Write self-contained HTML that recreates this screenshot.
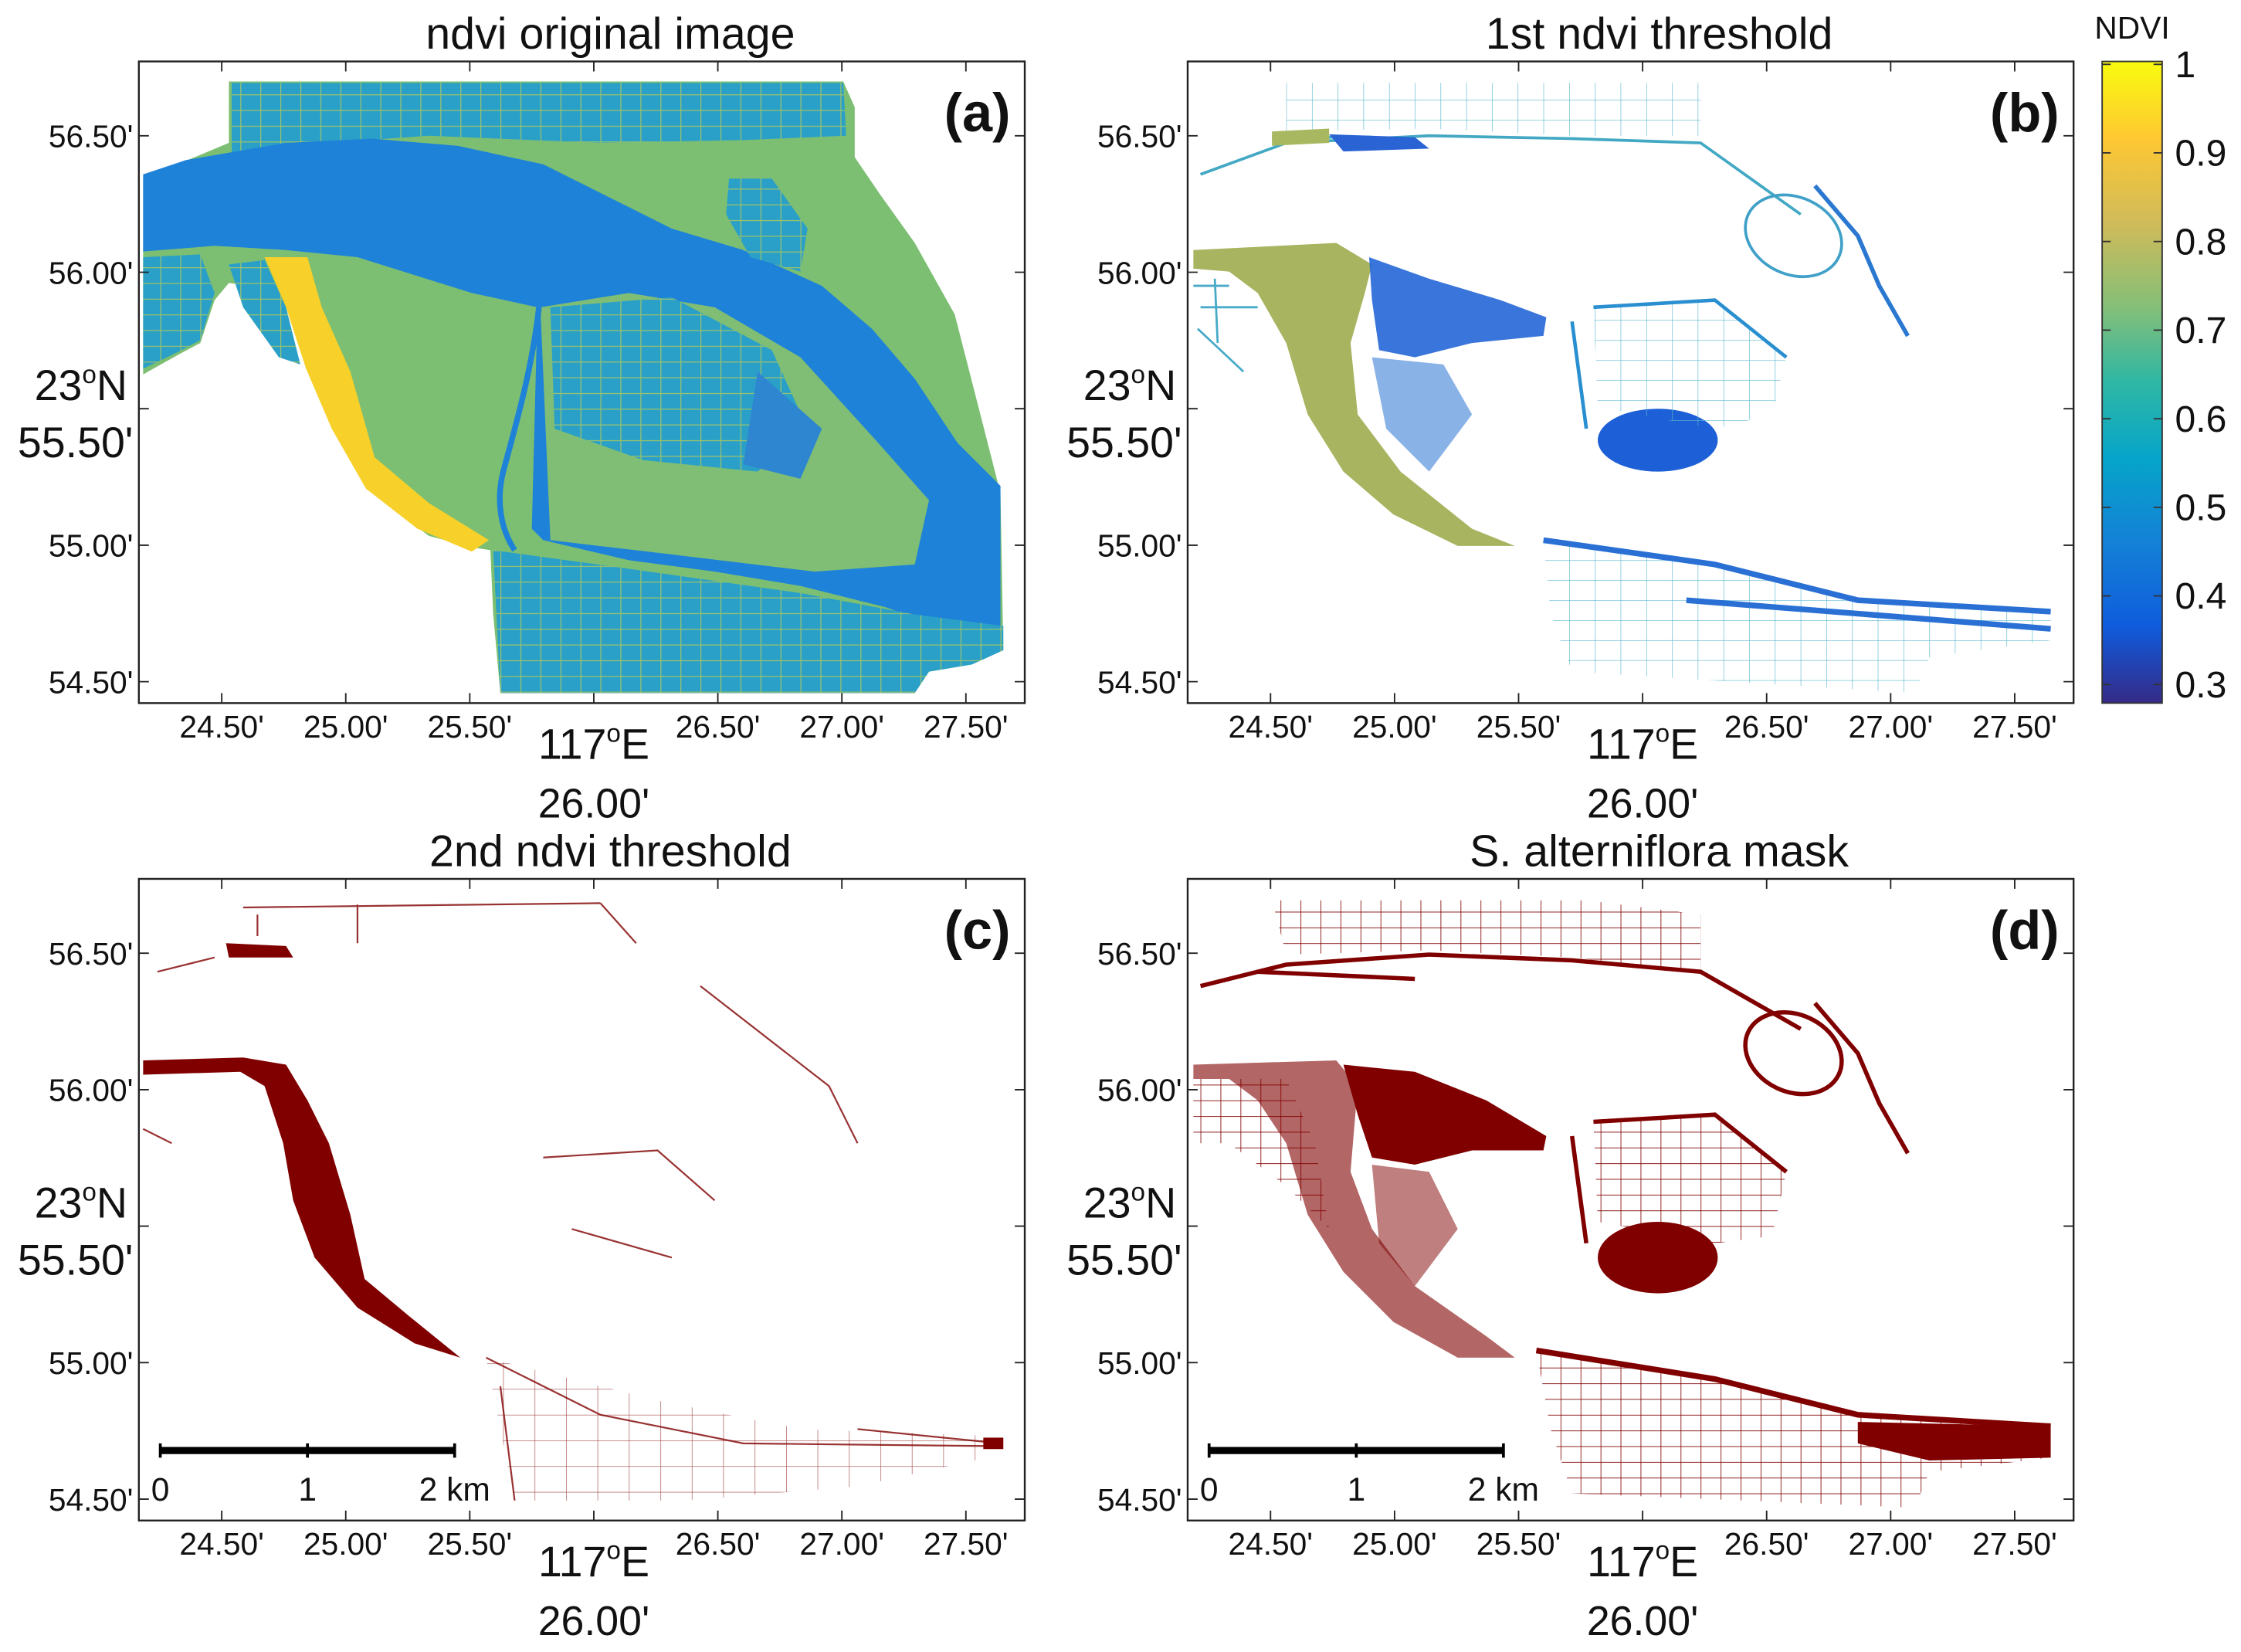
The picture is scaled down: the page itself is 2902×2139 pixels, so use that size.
<!DOCTYPE html>
<html><head><meta charset="utf-8">
<style>
html,body{margin:0;padding:0;background:#fff}
svg{display:block}
text{font-family:"Liberation Sans",sans-serif;fill:#111}
</style></head>
<body>
<svg id="fig" xmlns="http://www.w3.org/2000/svg" width="2902" height="2139" viewBox="0 0 1568 1156">
<defs>
<linearGradient id="parula" x1="0" y1="1" x2="0" y2="0">
<stop offset="0" stop-color="#352a87"/><stop offset="0.12" stop-color="#0f5cdd"/>
<stop offset="0.25" stop-color="#1481d6"/><stop offset="0.38" stop-color="#06a4ca"/>
<stop offset="0.5" stop-color="#2eb7a4"/><stop offset="0.62" stop-color="#87bf77"/>
<stop offset="0.75" stop-color="#d1bb59"/><stop offset="0.88" stop-color="#fec832"/>
<stop offset="1" stop-color="#f9fb0e"/></linearGradient>
<pattern id="fields" width="14" height="11" patternUnits="userSpaceOnUse">
<rect width="14" height="11" fill="#2aa0c8"/><path d="M0 0H14M0 0V11" stroke="#9cc26a" stroke-width="1.3"/></pattern>
<pattern id="bfields" width="18" height="14" patternUnits="userSpaceOnUse">
<path d="M0 0H18M0 0V14" stroke="#5ab7d0" stroke-width="0.7"/></pattern>
<pattern id="rfields" width="14" height="11" patternUnits="userSpaceOnUse">
<path d="M0 0H14M0 0V11" stroke="#800000" stroke-width="0.9"/></pattern>
<pattern id="rfields2" width="22" height="18" patternUnits="userSpaceOnUse">
<path d="M0 0H22M0 0V18" stroke="#800000" stroke-width="0.7"/></pattern>
</defs>

<g>
<polygon fill="#7cbf72" points="100,125 160,100 160,57 590,57 598,75 598,110 615,135 640,170 668,220 700,345 702,455 680,465 650,470 640,485 350,485 345,430 343,385 330,383 300,375 260,345 235,300 215,255 200,215 175,200 160,198 150,210 140,240 125,248 100,262"/>
<polygon fill="url(#fields)" points="162,58 590,58 592,95 520,98 420,100 300,95 200,102 162,110"/>
<polygon fill="url(#fields)" points="100,180 140,178 150,205 140,238 125,246 100,258"/>
<polygon fill="url(#fields)" points="160,185 185,182 200,215 210,255 195,250 170,215"/>
<polygon fill="#f7d02a" points="185,180 215,180 225,215 245,260 262,320 300,352 342,378 330,386 292,370 256,342 232,300 214,258 200,215"/>
<polygon fill="#1e82d8" points="100,122 130,112 200,100 260,97 320,102 380,115 430,140 470,160 520,175 575,200 610,230 640,265 670,310 700,340 700,455 620,425 560,410 500,400 440,392 380,378 372,370 376,215 330,205 250,180 200,175 150,172 100,176"/>
<polygon fill="#7fbe74" points="385,378 378,215 440,205 500,215 560,250 610,305 650,350 640,395 570,400 470,388"/>
<polygon fill="url(#fields)" points="385,215 470,208 540,245 565,300 530,330 450,322 388,300"/>
<polygon fill="#2e86d0" points="530,260 575,300 560,335 520,325"/>
<polygon fill="url(#fields)" points="510,125 540,125 565,160 560,190 525,180 508,150"/>
<polygon fill="url(#fields)" points="345,385 440,398 560,415 640,430 702,438 702,455 680,465 650,470 640,485 350,485"/>
<path d="M377 215 C372 260 360 300 352 330 C347 350 350 370 360 385" fill="none" stroke="#1e82d8" stroke-width="4"/>
</g>

<g>
<polygon fill="url(#bfields)" points="900,58 1190,58 1190,95 1100,95 1000,90 900,92"/>
<path d="M840 122 L900 100 L1000 95 L1100 97 L1190 100 L1260 150 M890 96 L960 96" stroke="#42a8c4" stroke-width="2" fill="none"/>
<polygon fill="#a8b860" points="890,92 930,90 930,100 890,102"/>
<polygon fill="#2a64d4" points="930,94 990,96 1000,104 940,106"/>
<polygon fill="#a9b460" points="835,175 935,170 960,185 955,205 945,240 950,290 980,330 1030,370 1060,382 1020,382 975,360 940,330 915,290 900,240 880,205 860,190 835,188"/>
<polygon fill="#2466d6" opacity="0.9" points="958,180 1000,195 1050,210 1082,222 1080,235 1030,240 990,250 965,245 960,210"/>
<polygon fill="#3a7fd6" opacity="0.6" points="960,250 1010,255 1030,290 1000,330 970,300"/>
<path d="M835 200 L860 200 M840 215 L880 215 M838 230 L870 260 M850 195 L852 240" stroke="#46aac8" stroke-width="1.5"/>
<ellipse cx="1160" cy="308" rx="42" ry="22" fill="#1d5fd6"/>
<polygon fill="url(#bfields)" points="1115,215 1200,210 1250,250 1240,290 1200,300 1118,285"/>
<path d="M1115 215 L1200 210 L1250 250 M1100 225 L1110 300" stroke="#2a8fd0" stroke-width="2.5" fill="none"/>
<ellipse cx="1255" cy="165" rx="35" ry="27" fill="none" stroke="#40a0c8" stroke-width="2" transform="rotate(25 1255 165)"/>
<path d="M1270 130 L1300 165 L1315 200 L1335 235" stroke="#2a78d0" stroke-width="3" fill="none"/>
<polygon fill="url(#bfields)" points="1080,378 1200,395 1300,418 1435,428 1435,448 1350,460 1340,485 1100,470 1085,430"/>
<path d="M1080 378 L1200 395 L1300 420 L1435 428 M1180 420 L1435 440" stroke="#2a70d4" stroke-width="4" fill="none"/>
</g>

<g>
<polygon fill="#800000" points="158,660 200,662 205,670 160,670"/>
<polygon fill="#800000" points="100,742 170,740 200,745 215,770 230,800 245,850 255,895 285,920 322,950 290,940 250,915 220,880 205,840 198,800 185,760 168,750 100,752"/>
<path d="M170 635 L420 632 M180 640 L180 655 M250 633 L250 660 M420 632 L445 660 M110 680 L150 670 M490 690 L580 760 L600 800 M100 790 L120 800 M380 810 L460 805 L500 840 M400 860 L470 880 M340 950 L420 990 L520 1010 L700 1012 M350 970 L360 1050 M600 1000 L700 1010" stroke="#800000" stroke-width="1.2" fill="none" opacity="0.8"/>
<polygon fill="url(#rfields2)" opacity="0.7" points="340,950 460,980 560,1000 700,1005 700,1018 600,1040 480,1050 360,1050"/>
<rect x="688" y="1006" width="14" height="8" fill="#800000"/>
</g>

<g>
<polygon fill="url(#rfields)" points="890,630 1110,630 1190,640 1190,680 1100,670 1000,665 900,668"/>
<path d="M840 690 L900 675 L1000 668 L1100 672 L1190 680 L1260 720 M880 680 L990 685" stroke="#800000" stroke-width="3" fill="none"/>
<polygon fill="#800000" opacity="0.6" points="835,745 935,742 950,760 945,820 960,860 990,900 1040,935 1060,950 1020,950 975,925 940,890 915,850 900,800 880,770 860,755 835,755"/>
<polygon fill="url(#rfields)" points="835,755 900,755 920,800 930,860 900,830 860,800 835,800"/>
<polygon fill="#800000" points="940,745 990,750 1040,770 1082,795 1080,805 1030,805 990,815 960,810 950,780"/>
<polygon fill="#800000" opacity="0.5" points="960,815 1000,820 1020,860 990,900 965,870"/>
<ellipse cx="1160" cy="880" rx="42" ry="25" fill="#800000"/>
<polygon fill="url(#rfields)" points="1115,785 1200,780 1250,820 1240,865 1200,870 1118,855"/>
<path d="M1115 785 L1200 780 L1250 820 M1100 795 L1110 870" stroke="#800000" stroke-width="3" fill="none"/>
<ellipse cx="1255" cy="737" rx="35" ry="27" fill="none" stroke="#800000" stroke-width="3" transform="rotate(25 1255 737)"/>
<path d="M1270 702 L1300 737 L1315 772 L1335 807" stroke="#800000" stroke-width="3" fill="none"/>
<polygon fill="url(#rfields)" points="1075,945 1200,965 1300,990 1435,998 1435,1020 1350,1030 1340,1055 1100,1045 1085,1000"/>
<path d="M1075 945 L1200 965 L1300 990 L1435 998" stroke="#800000" stroke-width="4" fill="none"/>
<polygon fill="#800000" points="1300,995 1435,998 1435,1020 1350,1022 1300,1010"/>
</g>

<g>
<line x1="112" y1="1015" x2="318" y2="1015" stroke="#000" stroke-width="5"/>
<path d="M112 1010V1020M215 1010V1020M318 1010V1020" stroke="#000" stroke-width="2"/>
<text x="112" y="1050" font-size="23" text-anchor="middle">0</text>
<text x="215" y="1050" font-size="23" text-anchor="middle">1</text>
<text x="318" y="1050" font-size="23" text-anchor="middle">2 km</text>
</g>
<g>
<line x1="846" y1="1015" x2="1052" y2="1015" stroke="#000" stroke-width="5"/>
<path d="M846 1010V1020M949 1010V1020M1052 1010V1020" stroke="#000" stroke-width="2"/>
<text x="846" y="1050" font-size="23" text-anchor="middle">0</text>
<text x="949" y="1050" font-size="23" text-anchor="middle">1</text>
<text x="1052" y="1050" font-size="23" text-anchor="middle">2 km</text>
</g>

<g id="axes"></g>

<rect x="1471" y="43" width="42" height="449" fill="url(#parula)" stroke="#333" stroke-width="1"/>
<text x="1492" y="27" font-size="22" text-anchor="middle">NDVI</text>
<g id="cbticks"></g>
</svg>

<script>
const xTickLabels = ["24.50'", "25.00'", "25.50'", "26.00'", "26.50'", "27.00'", "27.50'"];
const xTickValues = [24.5, 25.0, 25.5, 26.0, 26.5, 27.0, 27.5];
const yTickLabels = ["56.50'", "56.00'", "55.50'", "55.00'", "54.50'"];
const yTickValues = [56.5, 56.0, 55.5, 55.0, 54.5];
const panelTitles = ["ndvi original image", "1st ndvi threshold", "2nd ndvi threshold", "S. alterniflora mask"];
const panelLetters = ["(a)", "(b)", "(c)", "(d)"];
const cbTickValues = [1, 0.9, 0.8, 0.7, 0.6, 0.5, 0.4, 0.3];
const cbTickLabels = ["1", "0.9", "0.8", "0.7", "0.6", "0.5", "0.4", "0.3"];

const NS = "http://www.w3.org/2000/svg";
const panels = [[97,43],[831,43],[97,615],[831,615]];
const PW = 620, PH = 449;
function xScale(v, x0){ return x0 + 58 + (v - 24.5) / 0.5 * 86.8; }
function yScale(v, y0){ return y0 + 52 + (56.5 - v) / 0.5 * 95.5; }
function cbScale(v){ return 45 + (1 - v) / 0.7 * 434; }
function mk(tag, attrs, parent, txt){
  const e = document.createElementNS(NS, tag);
  for (const k in attrs) e.setAttribute(k, attrs[k]);
  if (txt !== undefined) e.textContent = txt;
  parent.appendChild(e); return e;
}
const axes = document.getElementById('axes');
panels.forEach((p, i) => {
  const [x0, y0] = p;
  const g = mk('g', {}, axes);
  
  
  const box = mk('rect', {x:x0, y:y0, width:PW, height:PH, fill:'none', stroke:'#222', 'stroke-width':1.3}, g);
  
  
  const t = mk('text', {x:x0+PW/2+20, y:y0-9, 'font-size':31, 'text-anchor':'middle'}, g, panelTitles[i]);
  
  
  const l = mk('text', {x:x0+PW-10, y:y0+49, 'font-size':38, 'font-weight':'bold', 'text-anchor':'end'}, g, panelLetters[i]);
  
  
  xTickValues.forEach((v, j) => {
    const x = xScale(v, x0);
    mk('path', {d:`M${x} ${y0+PH}v-7M${x} ${y0}v7`, stroke:'#222', 'stroke-width':1}, g);
    if (j === 3) {
      const a = mk('text', {x:x, y:y0+PH+39, 'font-size':30, 'text-anchor':'middle'}, g);
      
      
      a.innerHTML = '117<tspan font-size="18" dy="-12">o</tspan><tspan dy="12">E</tspan>';
      const b = mk('text', {x:x, y:y0+PH+80, 'font-size':29, 'text-anchor':'middle'}, g, xTickLabels[j]);
      
      
    } else {
      const tl = mk('text', {x:x, y:y0+PH+24, 'font-size':22, 'text-anchor':'middle'}, g, xTickLabels[j]);
      
      
    }
  });
  yTickValues.forEach((v, j) => {
    const y = yScale(v, y0);
    mk('path', {d:`M${x0} ${y}h7M${x0+PW} ${y}h-7`, stroke:'#222', 'stroke-width':1}, g);
    if (j === 2) {
      const a = mk('text', {x:x0-8, y:y-6, 'font-size':30, 'text-anchor':'end'}, g);
      
      
      a.innerHTML = '23<tspan font-size="18" dy="-12">o</tspan><tspan dy="12">N</tspan>';
      const b = mk('text', {x:x0-4, y:y+34, 'font-size':30, 'text-anchor':'end'}, g, yTickLabels[j]);
      
      
    } else {
      const tl = mk('text', {x:x0-4, y:y+8, 'font-size':22, 'text-anchor':'end'}, g, yTickLabels[j]);
      
      
    }
  });
});
const cbg = document.getElementById('cbticks');
cbTickValues.forEach((v, j) => {
  const y = cbScale(v);
  mk('path', {d:`M1471 ${y}h6M1513 ${y}h-6`, stroke:'#333', 'stroke-width':1}, cbg);
  const tl = mk('text', {x:1522, y:y+9, 'font-size':26}, cbg, cbTickLabels[j]);
  
  
});
</script>
</body></html>
